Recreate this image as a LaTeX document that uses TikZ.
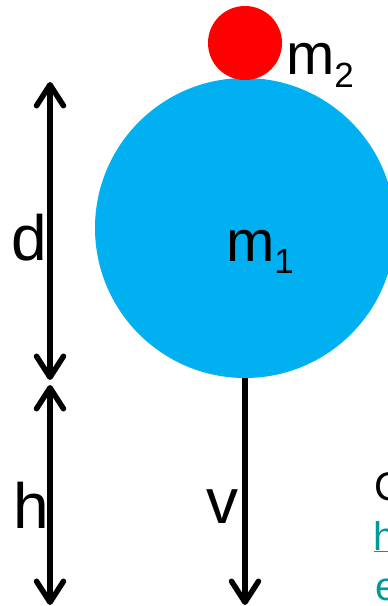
\documentclass[tikz,border=0pt]{standalone}
\usepackage{fontspec}
\setmainfont{Liberation Sans}
\usetikzlibrary{arrows.meta}
\definecolor{bigblue}{RGB}{0,176,240}
\definecolor{linkteal}{RGB}{0,153,153}
\begin{document}
\begin{tikzpicture}[x=1pt,y=-1pt,
  lbl/.style={inner sep=0pt, outer sep=0pt, anchor=base west, font=\fontsize{64}{64}\selectfont},
  mlbl/.style={inner sep=0pt, outer sep=0pt, anchor=base west, font=\fontsize{58}{58}\selectfont},
  credit/.style={inner sep=0pt, outer sep=0pt, anchor=base west, font=\fontsize{40}{40}\selectfont},
  vec/.style={line width=5.5pt, -{Straight Barb[length=21pt,width=27pt,round]}},
  ball/.style={circle, inner sep=0pt, draw=none}]
\useasboundingbox (0,0) rectangle (388,606);
\clip (0,0) rectangle (388,606);
% bodies
\node[ball, fill=bigblue, minimum size=300pt] (big) at (245,228) {};
\node[ball, fill=red, minimum size=74pt] (small) at (245,43) {};
% labels
\node[mlbl] (m1) at (226,261) {m\raisebox{-12pt}{\fontsize{35}{35}\selectfont 1}};
\node[mlbl] (m2) at (286,74) {m\raisebox{-13pt}{\fontsize{35}{35}\selectfont 2}};
\node[lbl] (d) at (12,260) {d};
\node[lbl] (h) at (13,528) {h};
\node[lbl] (v) at (206,523) {v};
% arrow end points
\coordinate (dmid) at (50,231);
\coordinate (dtop) at (50,82);
\coordinate (dbot) at (50,380);
\coordinate (hmid) at (50,494);
\coordinate (htop) at (50,385);
\coordinate (hbot) at (50,605);
\coordinate (vbot) at (245,605);
\draw[vec] (dmid) -- (dtop);
\draw[vec] (dmid) -- (dbot);
\draw[vec] (hmid) -- (htop);
\draw[vec] (hmid) -- (hbot);
\draw[vec] (big.south) -- (vbot);
% cut-off credit text
\node[credit] (c1) at (374,500) {C};
\node[credit, text=linkteal] (c2) at (373.5,550) {\underline{h}};
\node[credit, text=linkteal] (c3) at (375,600) {e};
\end{tikzpicture}
\end{document}
